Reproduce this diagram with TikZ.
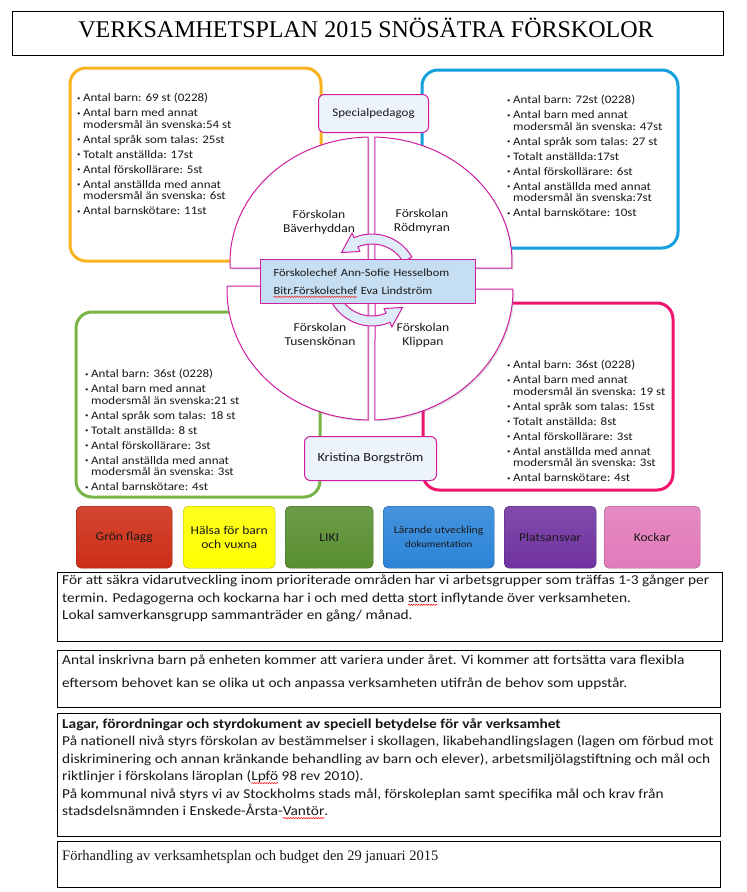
\documentclass[tikz,border=0pt]{standalone}
\usepackage{fontspec}
\setmainfont{Carlito}[FakeStretch=1.13]
\newfontfamily\tnr{Liberation Serif}
\usetikzlibrary{shadows,calc,decorations.pathmorphing}
\definecolor{cOr}{RGB}{250,178,30}
\definecolor{cBl}{RGB}{20,160,220}
\definecolor{cGr}{RGB}{120,180,70}
\definecolor{cPk}{RGB}{240,20,110}
\definecolor{cMag}{RGB}{205,30,160}
\definecolor{cLb}{RGB}{236,243,251}
\definecolor{cRect}{RGB}{198,222,242}
\definecolor{cArr}{RGB}{222,236,249}
\definecolor{bRed}{RGB}{205,45,22}
\definecolor{bYel}{RGB}{255,255,0}
\definecolor{bGrn}{RGB}{88,142,48}
\definecolor{bBlu}{RGB}{44,132,216}
\definecolor{bPur}{RGB}{112,50,160}
\definecolor{bPnk}{RGB}{226,122,186}
\definecolor{txt}{RGB}{25,25,25}
\newcommand\bl{\makebox[6pt][l]{\raisebox{1.4pt}{\fontsize{6}{6}\selectfont\textbullet}}}
\newcommand\ct{\hspace*{6pt}}
\newsavebox\sqbox
\newcommand\sqw[1]{\leavevmode\sbox\sqbox{#1}\rlap{\tikz[overlay,x=1pt,y=1pt,baseline=0pt]\draw[red,line width=0.5pt,decorate,decoration={snake,amplitude=0.6pt,segment length=2.5pt}] (0,-2.5) -- (\the\wd\sqbox,-2.5);}\usebox\sqbox}
\begin{document}
\begin{tikzpicture}[x=1pt,y=-1pt,
  ring/.style={line width=3pt, rounded corners=16pt},
  listtext/.style={anchor=north west, inner sep=0pt, align=left, text=txt,
    font=\fontsize{11.5}{11.5}\selectfont},
  quad/.style={draw=cMag, line width=1pt, fill=white,
    drop shadow={opacity=0.25, shadow xshift=1.5pt, shadow yshift=-1.5pt}},
  arrowst/.style={draw=cMag, line width=1pt, fill=cArr},
  pbox/.style={draw=cMag, fill=cLb, rounded corners=6pt, line width=1pt,
    anchor=north west, text=txt, font=\fontsize{11.5}{14}\selectfont},
  qlabel/.style={align=center, text=txt, font=\fontsize{12}{14}\selectfont},
  btn/.style={rounded corners=5pt, anchor=north west, minimum height=62pt,
    align=center, text=txt, font=\fontsize{12}{14}\selectfont, inner sep=1pt},
  tbox/.style={draw=black, line width=1pt},
  ttext/.style={anchor=north west, inner sep=0pt, align=left, text=txt,
    font=\fontsize{13.6}{17.5}\selectfont}
]
\useasboundingbox (0,0) rectangle (747,892);
\fill[white] (0,0) rectangle (747,892);

% title
\node[draw=black, line width=1pt, minimum width=711pt, minimum height=44pt,
  anchor=north west] (title) at (12,11) {};
\node[anchor=base, inner sep=0pt, font=\tnr\fontsize{24}{24}\selectfont, text=black]
  (titletext) at (366,37.3) {VERKSAMHETSPLAN 2015 SNÖSÄTRA FÖRSKOLOR};

% coloured frames
\draw[ring, cOr] (70,68) rectangle (321,261);
\draw[ring, cBl] (422,70) rectangle (678,248);
\draw[ring, cGr] (76,312) rectangle (320,497);
\draw[ring, cPk] (423,303) rectangle (673,490);

% lists
\node[listtext] (l1) at (77,93) {%
\bl Antal barn: 69 st (0228)\\[3.5pt]
\bl Antal barn med annat\\ \ct modersmål än svenska:54 st\\[3.5pt]
\bl Antal språk som talas: 25st\\[3.5pt]
\bl Totalt anställda: 17st\\[3.5pt]
\bl Antal förskollärare: 5st\\[3.5pt]
\bl Antal anställda med annat\\ \ct modersmål än svenska: 6st\\[3.5pt]
\bl Antal barnskötare: 11st};

\node[listtext] (l2) at (507,95) {%
\bl Antal barn: 72st (0228)\\[3.5pt]
\bl Antal barn med annat\\ \ct modersmål än svenska: 47st\\[3.5pt]
\bl Antal språk som talas: 27 st\\[3.5pt]
\bl Totalt anställda:17st\\[3.5pt]
\bl Antal förskollärare: 6st\\[3.5pt]
\bl Antal anställda med annat\\ \ct modersmål än svenska:7st\\[3.5pt]
\bl Antal barnskötare: 10st};

\node[listtext] (l3) at (85,369) {%
\bl Antal barn: 36st (0228)\\[3.5pt]
\bl Antal barn med annat\\ \ct modersmål än svenska:21 st\\[3.5pt]
\bl Antal språk som talas: 18 st\\[3.5pt]
\bl Totalt anställda: 8 st\\[3.5pt]
\bl Antal förskollärare: 3st\\[3.5pt]
\bl Antal anställda med annat\\ \ct modersmål än svenska: 3st\\[3.5pt]
\bl Antal barnskötare: 4st};

\node[listtext] (l4) at (507,360) {%
\bl Antal barn: 36st (0228)\\[3.5pt]
\bl Antal barn med annat\\ \ct modersmål än svenska: 19 st\\[3.5pt]
\bl Antal språk som talas: 15st\\[3.5pt]
\bl Totalt anställda: 8st\\[3.5pt]
\bl Antal förskollärare: 3st\\[3.5pt]
\bl Antal anställda med annat\\ \ct modersmål än svenska: 3st\\[3.5pt]
\bl Antal barnskötare: 4st};

% circle quadrants
\coordinate (CU) at (371,262);
\coordinate (CL) at (370,290);
\draw[quad] (368,268) -- ([shift={(268.8:141 and 125)}]CU)
  arc[start angle=268.8, end angle=177.25, x radius=141, y radius=125] -- cycle;
\draw[quad] (375,268) -- ([shift={(271.6:141 and 125)}]CU)
  arc[start angle=271.6, end angle=362.75, x radius=141, y radius=125] -- cycle;
\draw[quad] (368,286) -- ([shift={(90.8:143 and 130)}]CL)
  arc[start angle=90.8, end angle=181.76, x radius=143, y radius=130] -- cycle;
\draw[quad] (375,289) -- ([shift={(-0.44:143 and 130)}]CL)
  arc[start angle=-0.44, end angle=88, x radius=143, y radius=130] -- cycle;

\node[qlabel] (q1) at (319,222) {Förskolan\\Bäverhyddan};
\node[qlabel] (q2) at (422,221) {Förskolan\\Rödmyran};
\node[qlabel] (q3) at (320,334) {Förskolan\\Tusenskönan};
\node[qlabel] (q4) at (423,335) {Förskolan\\Klippan};

% circular arrows
\begin{scope}[shift={(372,280)}]
\draw[arrowst] (330:46) arc[start angle=330, end angle=247, radius=46]
  -- (247:51) -- (222:41) -- (247:31) -- (247:36)
  arc[start angle=247, end angle=330, radius=36] -- cycle;
\draw[arrowst] (150:46) arc[start angle=150, end angle=67, radius=46]
  -- (67:51) -- (42:41) -- (67:31) -- (67:36)
  arc[start angle=67, end angle=150, radius=36] -- cycle;
\end{scope}

% chef box
\node[draw=cMag, line width=1.2pt, fill=cRect, minimum width=215pt, minimum height=44pt,
  anchor=north west, text width=189pt, inner xsep=13pt, align=left, text=txt,
  font=\fontsize{11}{18}\selectfont] (chef) at (260,259)
  {Förskolechef Ann-Sofie Hesselbom\\\sqw{Bitr.Förskolechef} Eva Lindström};

% people boxes
\node[pbox, minimum width=110pt, minimum height=38pt] (spec) at (318,94) {Specialpedagog};
\node[pbox, minimum width=132pt, minimum height=44pt, font=\fontsize{12.5}{14}\selectfont] (kris) at (304,436) {Kristina Borgström};

% buttons
\node[btn, minimum width=96pt, draw=bRed!70!black, top color=bRed!88!white, bottom color=bRed] (b1) at (76,506) {Grön flagg};
\node[btn, minimum width=92pt, draw=bYel!70!black, top color=bYel!88!white, bottom color=bYel] (b2) at (183,506) {Hälsa för barn\\och vuxna};
\node[btn, minimum width=88pt, draw=bGrn!70!black, top color=bGrn!88!white, bottom color=bGrn] (b3) at (285,506) {LIKI};
\node[btn, minimum width=111pt, draw=bBlu!70!black, top color=bBlu!88!white, bottom color=bBlu] (b4) at (383,506) {{\fontsize{10.4}{12}\selectfont Lärande utveckling}\\{\fontsize{9.5}{11}\selectfont dokumentation}};
\node[btn, minimum width=92pt, draw=bPur!70!black, top color=bPur!88!white, bottom color=bPur] (b5) at (504,506) {Platsansvar};
\node[btn, minimum width=96pt, draw=bPnk!70!black, top color=bPnk!88!white, bottom color=bPnk] (b6) at (604,506) {Kockar};

% text boxes
\draw[tbox] (57,572) rectangle (722,641);
\node[ttext] (t1) at (62,575) {För att säkra vidarutveckling inom prioriterade områden har vi arbetsgrupper som träffas 1-3 gånger per\\
termin. Pedagogerna och kockarna har i och med detta \sqw{stort} inflytande över verksamheten.\\
Lokal samverkansgrupp sammanträder en gång/ månad.};

\draw[tbox] (57,650) rectangle (720,707);
\node[ttext, font=\fontsize{13.6}{23}\selectfont] (t2) at (62,655) {Antal inskrivna barn på enheten kommer att variera under året. Vi kommer att fortsätta vara flexibla\\
eftersom behovet kan se olika  ut och anpassa verksamheten utifrån de behov som uppstår.};

\draw[tbox] (57,713) rectangle (720,836);
\node[ttext] (t3) at (62,718) {\textbf{Lagar, förordningar och styrdokument av speciell betydelse för vår verksamhet}\\
På nationell nivå styrs förskolan av bestämmelser i skollagen, likabehandlingslagen (lagen om förbud mot\\
diskriminering och annan kränkande behandling av barn och elever), arbetsmiljölagstiftning och mål och\\
riktlinjer i förskolans läroplan (\sqw{Lpfö} 98 rev 2010).\\
På kommunal nivå styrs vi av Stockholms stads mål, förskoleplan samt specifika mål och krav från\\
stadsdelsnämnden i Enskede-Årsta-\sqw{Vantör}.};

\draw[tbox] (57,841) rectangle (720,887);
\node[ttext, font=\tnr\fontsize{14.5}{16}\selectfont] (t4) at (62,850) {Förhandling av verksamhetsplan och budget den 29 januari 2015};
\end{tikzpicture}
\end{document}
